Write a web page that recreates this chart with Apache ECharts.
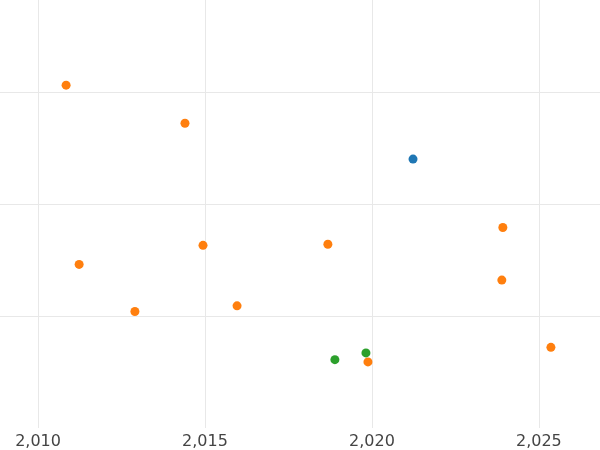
<!DOCTYPE html>
<html><head><meta charset="utf-8">
<script src="https://cdn.jsdelivr.net/npm/echarts@6/dist/echarts.min.js"></script>
<style>body{margin:0}#c{width:600px;height:450px}</style>
</head><body><div id="c"></div>
<script>
var orangePts = [[2010.84,3.06],[2014.40,2.72],[2023.92,1.79],[2011.23,1.46],[2014.94,1.63],[2018.68,1.64],[2023.89,1.32],[2012.90,1.04],[2015.96,1.09],[2025.36,0.72],[2019.88,0.59]];
var bluePts = [[2021.23,2.40]];
var greenPts = [[2018.89,0.61],[2019.82,0.67]];
var xTicks = [2010, 2015, 2020, 2025];

var chart = echarts.init(document.getElementById('c'));
function s(data, color) {
  return {type: 'scatter', data: data, symbolSize: 9, itemStyle: {color: color, opacity: 1}};
}
chart.setOption({
  animation: false,
  textStyle: {fontFamily: 'DejaVu Sans'},
  grid: {left: 0, right: 0, top: 0, bottom: 22},
  xAxis: {
    type: 'value', min: 2008.86, max: 2026.83,
    axisLine: {show: false},
    axisTick: {show: false, customValues: xTicks},
    axisLabel: {color: '#444', fontSize: 16, margin: 6, fontFamily: 'DejaVu Sans', customValues: xTicks},
    splitLine: {show: true, lineStyle: {color: '#e8e8e8'}}
  },
  yAxis: {
    type: 'value', min: 0, max: 3.82, interval: 1,
    axisLine: {show: false}, axisTick: {show: false}, axisLabel: {show: false},
    splitLine: {lineStyle: {color: '#e8e8e8'}, showMinLine: false, showMaxLine: false}
  },
  series: [s(orangePts, '#ff7f0e'), s(bluePts, '#1f77b4'), s(greenPts, '#2ca02c')]
});
</script>
</body></html>
